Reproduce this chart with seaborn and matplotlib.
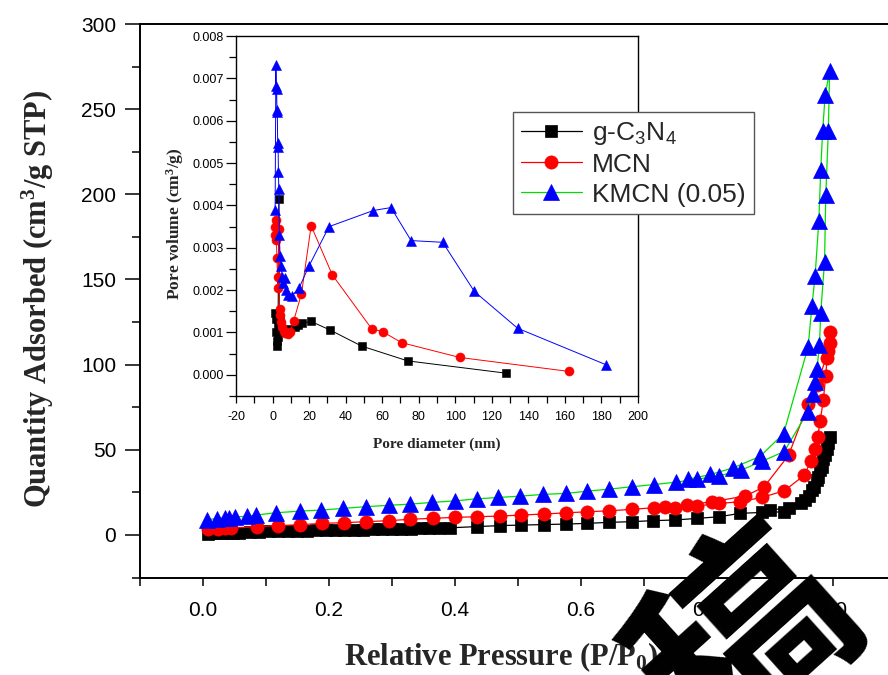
import matplotlib
matplotlib.use('Agg')
import matplotlib.pyplot as plt
import seaborn as sns
from matplotlib.ticker import MultipleLocator

# N2 isotherms: relative pressure (P/P0) vs quantity adsorbed, adsorption then desorption
p_gcn = [0.008, 0.018, 0.028, 0.038, 0.048, 0.058,
         0.075, 0.090, 0.105, 0.120, 0.135, 0.150, 0.165, 0.180, 0.195, 0.210, 0.225,
         0.240, 0.255, 0.270, 0.285, 0.300, 0.315, 0.330, 0.345, 0.360, 0.375, 0.392,
         0.435, 0.472, 0.506, 0.542, 0.577, 0.610, 0.645, 0.681, 0.715, 0.750, 0.784,
         0.820, 0.853, 0.887, 0.922, 0.956, 0.967, 0.975, 0.980, 0.985, 0.991, 0.996,
         0.993, 0.988, 0.983, 0.977, 0.970, 0.962, 0.950, 0.930, 0.900]
q_gcn = [0.8, 0.9, 1.0, 1.0, 1.1, 1.1,
         1.9, 2.0, 2.1, 2.3, 2.4, 2.5, 2.6, 2.7, 2.8, 2.9, 3.0,
         3.1, 3.2, 3.3, 3.4, 3.5, 3.6, 3.7, 3.8, 3.9, 4.0, 4.2,
         4.9, 5.5, 5.8, 6.1, 6.4, 6.8, 7.4, 7.8, 8.4, 8.8, 9.7,
         10.7, 12.7, 13.2, 13.6, 20.5, 26.3, 32.0, 38.0, 44.8, 50.7, 57.5,
         54.0, 47.0, 40.0, 34.0, 28.0, 23.0, 19.0, 16.0, 14.5]

p_mcn = [0.009, 0.025, 0.035, 0.045,
         0.086, 0.120, 0.154, 0.190, 0.224, 0.259, 0.296, 0.329, 0.366, 0.400, 0.435,
         0.472, 0.506, 0.542, 0.577, 0.610, 0.645, 0.681, 0.716, 0.750, 0.784, 0.820,
         0.853, 0.887, 0.923,
         0.955, 0.965, 0.972, 0.976, 0.980, 0.985, 0.989, 0.991, 0.995, 0.995,
         0.993, 0.975, 0.961, 0.930, 0.891, 0.861, 0.808, 0.768, 0.734]
q_mcn = [3.3, 3.7, 3.9, 4.0,
         4.9, 5.5, 6.0, 6.8, 7.2, 7.8, 8.4, 9.2, 9.8, 10.3, 10.7,
         11.1, 11.7, 12.3, 13.0, 13.6, 14.2, 15.0, 16.0, 16.0, 17.0, 18.5,
         19.5, 22.0, 25.9,
         35.1, 43.3, 50.7, 57.5, 66.8, 79.0, 93.6, 103.9, 112.5, 118.9,
         108.0, 88.0, 77.0, 46.8, 28.2, 22.8, 19.5, 17.5, 16.6]

p_kmcn = [0.007, 0.022, 0.035, 0.041, 0.051, 0.070, 0.085,
          0.116, 0.154, 0.188, 0.223, 0.259, 0.295, 0.329, 0.364, 0.400, 0.435, 0.469,
          0.504, 0.540, 0.577, 0.610, 0.645, 0.681, 0.716, 0.751, 0.784, 0.820, 0.854,
          0.888, 0.923,
          0.960, 0.968, 0.972, 0.975, 0.979, 0.981, 0.987, 0.989, 0.993, 0.995,
          0.988, 0.984, 0.981, 0.978, 0.972, 0.967, 0.961, 0.922, 0.885, 0.842, 0.806, 0.770]
q_kmcn = [9.0, 9.6, 10.0, 10.2, 10.5, 11.0, 11.7,
          13.0, 14.0, 14.6, 15.6, 16.6, 17.4, 18.1, 19.1, 20.0, 21.2, 22.0,
          22.8, 23.8, 24.4, 25.7, 26.9, 28.3, 29.6, 31.0, 32.7, 34.7, 38.0,
          43.3, 49.0,
          72.0, 82.5, 89.7, 97.5, 111.7, 130.6, 160.4, 199.8, 237.2, 272.3,
          258.3, 237.2, 214.4, 184.6, 152.0, 134.5, 110.5, 59.5, 46.2, 39.4, 35.5, 32.7]

# inset: pore size distribution, pore diameter (nm) vs pore volume (cm3/g)
d_gcn = [1.5, 1.7, 2.0, 2.2, 2.5, 2.8, 3.0, 3.4, 3.8, 4.3, 5.0, 6.0, 7.7, 9.5,
         12.3, 14.1, 16.0, 21.1, 31.4, 48.7, 73.9, 127.7]
v_gcn = [0.00145, 0.00132, 0.00100, 0.00080, 0.00068, 0.00090, 0.00120, 0.00415,
         0.00130, 0.00112, 0.00102, 0.00100, 0.00106, 0.00108, 0.00112, 0.00118,
         0.00122, 0.00126, 0.00106, 0.00068, 0.00033, 0.00004]

d_mcn = [1.2, 1.5, 1.8, 2.1, 2.4, 2.7, 3.0, 3.4, 3.8, 4.2, 4.7, 5.3, 6.0, 7.0, 8.2,
         9.6, 11.5, 15.8, 21.1, 32.7, 54.2, 60.2, 70.6, 102.5, 162.3]
v_mcn = [0.00348, 0.00330, 0.00366, 0.00318, 0.00275, 0.00230, 0.00205, 0.00345,
         0.00155, 0.00142, 0.00125, 0.00112, 0.00103, 0.00098, 0.00097, 0.00101,
         0.00127, 0.00191, 0.00352, 0.00236, 0.00109, 0.00102, 0.00076, 0.00041, 0.00008]

d_kmcn = [1.4, 1.8, 2.0, 2.2, 2.4, 2.6, 2.8, 3.0, 3.2, 3.4, 3.7, 4.1, 4.6, 5.3, 5.9,
          6.6, 7.3, 8.6, 10.5, 14.5, 19.8, 30.9, 55.1, 64.8, 75.8, 93.1, 110.4, 134.1, 182.4]
v_kmcn = [0.00389, 0.00732, 0.00682, 0.00676, 0.00625, 0.00621, 0.00539, 0.00547,
          0.00480, 0.00440, 0.00330, 0.00281, 0.00256, 0.00232, 0.00216, 0.00228,
          0.00201, 0.00189, 0.00186, 0.00205, 0.00256, 0.00350, 0.00388, 0.00395,
          0.00317, 0.00313, 0.00197, 0.00110, 0.00024]

labels = ['g-C$_3$N$_4$', 'MCN', 'KMCN (0.05)']

sns.set_style('ticks')
plt.rcParams['font.family'] = ['Liberation Sans', 'DejaVu Sans']
plt.rcParams['mathtext.default'] = 'regular'
plt.rcParams['axes.unicode_minus'] = False

fig = plt.figure(figsize=(8.88, 6.75), dpi=100)

# ---------------- main isotherm ----------------
ax = fig.add_axes([0.1573, 0.1444, 0.8514, 0.82])

main_series = [
    (p_gcn, q_gcn, 's', 'black', 'black', 8.5),
    (p_mcn, q_mcn, 'o', 'red', 'red', 9.5),
    (p_kmcn, q_kmcn, '^', '#00dd00', 'blue', 11),
]
for (px, qy, mk, lc, mc, ms), lab in zip(main_series, labels):
    sns.lineplot(x=px, y=qy, ax=ax, sort=False, estimator=None, marker=mk,
                 color=lc, markerfacecolor=mc, markeredgecolor=mc,
                 markeredgewidth=0.5, markersize=ms, linewidth=0.9, label=lab)

ax.set_xlim(-0.1, 1.1)
ax.set_ylim(-25, 300)
ax.set_xticks([0.0, 0.2, 0.4, 0.6, 0.8, 1.0])
ax.xaxis.set_minor_locator(MultipleLocator(0.1))
ax.set_yticks([0, 50, 100, 150, 200, 250, 300])
ax.yaxis.set_minor_locator(MultipleLocator(25))
ax.tick_params(axis='both', which='both', direction='out', labelsize=15, width=1.1,
               colors='black', top=False, right=False)
ax.tick_params(axis='y', which='major', length=11, pad=6)
ax.tick_params(axis='y', which='minor', length=6)
ax.tick_params(axis='x', which='both', length=6, pad=11)
for sp in ax.spines.values():
    sp.set_linewidth(1.4)
    sp.set_color('black')

ax.set_xlabel('Relative Pressure (P/P$_0$)', family='Liberation Serif',
              fontweight='bold', fontsize=22)
ax.set_ylabel('Quantity Adsorbed (cm$^3$/g STP)', family='Liberation Serif',
              fontweight='bold', fontsize=22)
ax.xaxis.set_label_coords(0.478, -0.113)
ax.yaxis.set_label_coords(-0.111, 0.503)
ax.get_legend().remove()

# legend of the figure, drawn over the inset
handles, leg_labels = ax.get_legend_handles_labels()
leg = fig.legend(handles, leg_labels, loc='upper left',
                 bbox_to_anchor=(513 / 888, 1 - 112 / 675), borderaxespad=0,
                 fontsize=19, frameon=True, fancybox=False, framealpha=1,
                 edgecolor='#555555', handlelength=2.3, handletextpad=0.4,
                 borderpad=0.3, labelspacing=0.22)
leg.get_frame().set_linewidth(1.0)

# ---------------- inset: pore size distribution ----------------
axin = fig.add_axes([0.2658, 0.4133, 0.4527, 0.5333])
inset_series = [
    (d_gcn, v_gcn, 's', 'black', 5.5),
    (d_mcn, v_mcn, 'o', 'red', 6.5),
    (d_kmcn, v_kmcn, '^', 'blue', 6.5),
]
for dx, vy, mk, c, ms in inset_series:
    sns.lineplot(x=dx, y=vy, ax=axin, sort=False, estimator=None, marker=mk,
                 color=c, markerfacecolor=c, markeredgecolor=c,
                 markeredgewidth=0.4, markersize=ms, linewidth=0.7)

axin.set_xlim(-20, 200)
axin.set_ylim(-0.0005, 0.008)
axin.set_xticks(range(-20, 201, 20))
axin.xaxis.set_minor_locator(MultipleLocator(10))
axin.set_yticks([0.000, 0.001, 0.002, 0.003, 0.004, 0.005, 0.006, 0.007, 0.008])
axin.set_yticklabels(['0.000', '0.001', '0.002', '0.003', '0.004', '0.005',
                      '0.006', '0.007', '0.008'])
axin.yaxis.set_minor_locator(MultipleLocator(0.0005))
axin.tick_params(axis='both', which='both', direction='out', labelsize=9,
                 width=0.9, colors='black', top=False, right=False)
axin.tick_params(axis='y', which='major', length=7, pad=2)
axin.tick_params(axis='y', which='minor', length=5)
axin.tick_params(axis='x', which='both', length=5, pad=6)
for sp in axin.spines.values():
    sp.set_linewidth(1.0)
    sp.set_color('black')
axin.set_xlabel('Pore diameter (nm)', family='Liberation Serif',
                fontweight='bold', fontsize=11)
axin.set_ylabel('Pore volume (cm$^3$/g)', family='Liberation Serif',
                fontweight='bold', fontsize=12.5)
axin.xaxis.set_label_coords(0.5, -0.114)
axin.yaxis.set_label_coords(-0.124, 0.48)

# watermark character over the lower right corner (cut off by the image edge as in the source)
fig.text(750 / 888, 1 - 646 / 675, '稿', family=['Noto Sans CJK SC', 'DejaVu Sans'],
         fontweight='bold', fontsize=150, rotation=42, ha='center', va='center',
         color='black', zorder=20)

fig.savefig('out.png', dpi=100)
